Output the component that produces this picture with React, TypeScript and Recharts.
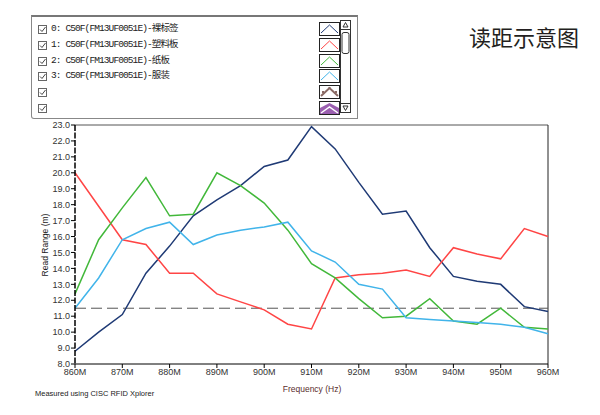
import { LineChart, Line, XAxis, YAxis, ReferenceLine } from "recharts";

const freqs = [860, 865, 870, 875, 880, 885, 890, 895, 900, 905, 910, 915, 920, 925, 930, 935, 940, 945, 950, 955, 960];
const tag0 = [8.8, 10.0, 11.1, 13.7, 15.4, 17.3, 18.3, 19.2, 20.4, 20.8, 22.9, 21.5, 19.4, 17.4, 17.6, 15.3, 13.5, 13.2, 13.0, 11.6, 11.3];
const tag1 = [20.0, 17.9, 15.8, 15.5, 13.7, 13.7, 12.4, 11.9, 11.4, 10.5, 10.2, 13.4, 13.6, 13.7, 13.9, 13.5, 15.3, 14.9, 14.6, 16.5, 16.0];
const tag2 = [12.4, 15.8, 17.8, 19.7, 17.3, 17.4, 20.0, 19.2, 18.1, 16.4, 14.3, 13.4, 12.1, 10.9, 11.0, 12.1, 10.7, 10.5, 11.5, 10.3, 10.2];
const tag3 = [11.5, 13.4, 15.8, 16.5, 16.9, 15.5, 16.1, 16.4, 16.6, 16.9, 15.1, 14.4, 13.0, 12.7, 10.9, 10.8, 10.7, 10.6, 10.5, 10.3, 9.9];
const xTicks = [860, 870, 880, 890, 900, 910, 920, 930, 940, 950, 960];
const yTicks = [8, 9, 10, 11, 12, 13, 14, 15, 16, 17, 18, 19, 20, 21, 22, 23];
const threshold = 11.5;

const legendNames = [
  "0: C50F(FM13UF0051E)-裸标签",
  "1: C50F(FM13UF0051E)-塑料板",
  "2: C50F(FM13UF0051E)-纸板",
  "3: C50F(FM13UF0051E)-服装",
  "",
  "",
];
const colors = ["#1f3a75", "#ff4545", "#42b83a", "#41b4ea", "#8a6a64", "#9b5fb0"];

const data = freqs.map((f, i) => ({ freq: f, s0: tag0[i], s1: tag1[i], s2: tag2[i], s3: tag3[i] }));

const font = "'Liberation Sans', Arial, sans-serif";

function Check() {
  return (
    <svg width={9} height={9} style={{ position: "absolute", left: 6, top: 3 }}>
      <rect x={0.5} y={0.5} width={8} height={8} fill="#fff" stroke="#666" />
      <polyline points="2,4.5 4,6.5 7.5,2" fill="none" stroke="#444" strokeWidth={1} />
    </svg>
  );
}

function Swatch({ idx }: { idx: number }) {
  const c = colors[idx];
  return (
    <svg width={21} height={14} style={{ position: "absolute", left: 287, top: 0 }}>
      <rect x={0.5} y={0.5} width={20} height={13} fill="#fff" stroke="#222" />
      {idx === 5 ? (
        <polygon points="1,13 1,7 10.5,2 20,7 20,13" fill={c} />
      ) : (
        <polyline points="2,11 10.5,3 19,11" fill="none" stroke={c} strokeWidth={idx === 4 ? 2 : 1} />
      )}
      {idx === 4 && (
        <>
          <rect x={3} y={6} width={2} height={2} fill={c} />
          <rect x={9.5} y={2} width={2} height={2} fill={c} />
          <rect x={16} y={6} width={2} height={2} fill={c} />
        </>
      )}
      {idx === 5 && <polyline points="2,12 10.5,6 19,12" fill="none" stroke="#fff" strokeWidth={1.5} />}
    </svg>
  );
}

export default function App() {
  return (
    <div style={{ position: "absolute", left: 0, top: 0, width: 600, height: 415, background: "#fff", fontFamily: font }}>
      <LineChart width={600} height={415} data={data} margin={{ top: 125, right: 52, bottom: 21, left: 35 }}>
        <XAxis
          dataKey="freq"
          type="number"
          domain={[860, 960]}
          ticks={xTicks}
          tickFormatter={(v: number) => `${v}M`}
          height={30}
          tick={{ fontSize: 9, fill: "#333", fontFamily: font }}
          tickSize={4}
          tickMargin={1}
          stroke="#000"
        />
        <YAxis
          type="number"
          domain={[8, 23]}
          ticks={yTicks}
          tickFormatter={(v: number) => v.toFixed(1)}
          width={40}
          tick={{ fontSize: 9, fill: "#333", fontFamily: font }}
          tickSize={4}
          tickMargin={1}
          stroke="#000"
          axisLine={{ stroke: "#000", strokeWidth: 1.5, strokeDasharray: "6 1.5" }}
        />
        <ReferenceLine y={23} stroke="#555" />
        <ReferenceLine x={960} stroke="#222" />
        <ReferenceLine y={threshold} stroke="#555" strokeDasharray="11 5" />
        <Line dataKey="s0" stroke={colors[0]} strokeWidth={1.5} dot={false} isAnimationActive={false} />
        <Line dataKey="s1" stroke={colors[1]} strokeWidth={1.5} dot={false} isAnimationActive={false} />
        <Line dataKey="s2" stroke={colors[2]} strokeWidth={1.5} dot={false} isAnimationActive={false} />
        <Line dataKey="s3" stroke={colors[3]} strokeWidth={1.5} dot={false} isAnimationActive={false} />
      </LineChart>

      {/* legend box */}
      <div
        style={{
          position: "absolute",
          left: 31,
          top: 15,
          width: 325,
          height: 101,
          borderTop: "2px solid #777",
          borderLeft: "1px solid #888",
          borderRight: "1px solid #888",
          borderBottom: "1px solid #888",
          borderRadius: "0 0 0 3px",
          background: "#fff",
        }}
      >
        {legendNames.map((name, i) => (
          <div key={i} style={{ position: "absolute", left: 0, top: 5 + i * 15.8, width: 320, height: 14 }}>
            <Check />
            <span
              style={{
                position: "absolute",
                left: 19,
                top: 0,
                fontFamily: "'Liberation Mono', 'Noto Sans CJK SC', monospace",
                fontSize: 9.5,
                letterSpacing: -0.9,
                lineHeight: "14px",
                color: "#222",
                whiteSpace: "nowrap",
              }}
            >
              {name}
            </span>
            <Swatch idx={i} />
          </div>
        ))}
        <svg width={11} height={93} style={{ position: "absolute", left: 308, top: 3 }}>
          <rect x={0.5} y={0.5} width={10} height={92} fill="#fff" stroke="#333" />
          <line x1={0} y1={9.5} x2={11} y2={9.5} stroke="#333" />
          <line x1={0} y1={83.5} x2={11} y2={83.5} stroke="#333" />
          <polygon points="3,7 5.5,2.5 8,7" fill="none" stroke="#333" />
          <polygon points="3,86 5.5,90.5 8,86" fill="none" stroke="#333" />
          <rect x={2} y={12.5} width={7} height={21} rx={2} fill="#fff" stroke="#333" />
        </svg>
      </div>

      {/* title */}
      <div
        style={{
          position: "absolute",
          left: 469,
          top: 22,
          fontFamily: "'Noto Sans CJK SC', sans-serif",
          fontSize: 22,
          lineHeight: "28px",
          color: "#231f20",
          whiteSpace: "nowrap",
        }}
      >
        读距示意图
      </div>

      {/* y label */}
      <div
        style={{
          position: "absolute",
          left: 45,
          top: 245,
          transform: "translate(-50%, -50%) rotate(-90deg)",
          fontSize: 8.5,
          color: "#222",
          whiteSpace: "nowrap",
        }}
      >
        Read Range (m)
      </div>

      {/* x label */}
      <div
        style={{
          position: "absolute",
          left: 312,
          top: 384,
          transform: "translateX(-50%)",
          fontSize: 8.5,
          color: "#5a2e2e",
          whiteSpace: "nowrap",
        }}
      >
        Frequency (Hz)
      </div>

      {/* footnote */}
      <div style={{ position: "absolute", left: 35, top: 389, fontSize: 7.5, color: "#222", whiteSpace: "nowrap" }}>
        Measured using CISC RFID Xplorer
      </div>
    </div>
  );
}
